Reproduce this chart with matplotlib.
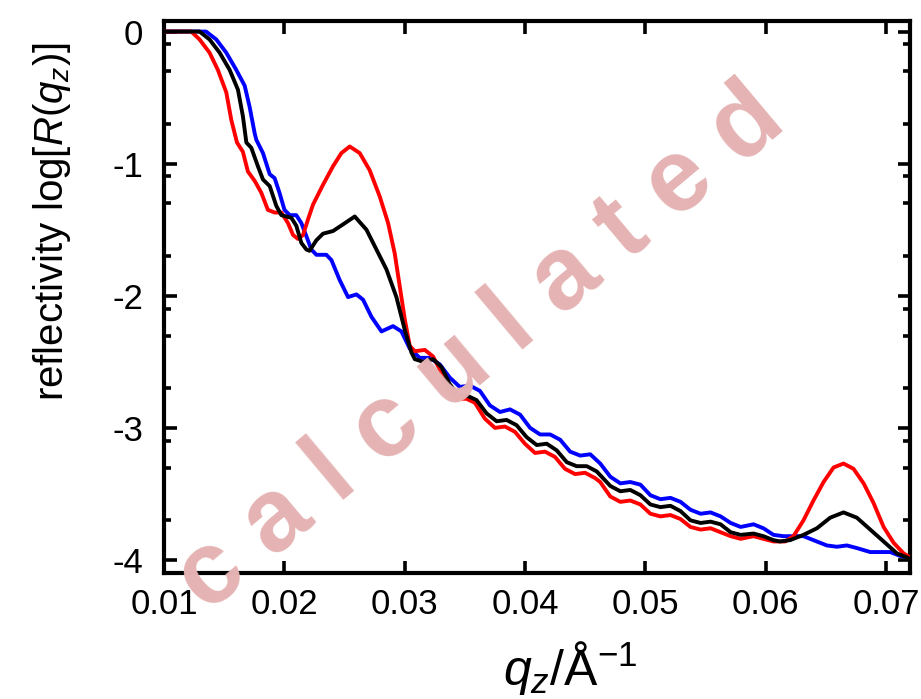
import matplotlib
matplotlib.use('Agg')
import matplotlib.pyplot as plt
import numpy as np

plt.rcParams['font.family'] = ['Liberation Sans', 'DejaVu Sans']
plt.rcParams['mathtext.fontset'] = 'custom'
plt.rcParams['mathtext.rm'] = 'Liberation Sans'
plt.rcParams['mathtext.it'] = 'Liberation Sans:italic'

# red curve
q_red = [0.0100, 0.01227, 0.01296, 0.01379, 0.01448, 0.01518, 0.0156, 0.01607, 0.01656, 0.01698,
         0.01754, 0.01809, 0.01864, 0.0192, 0.01976, 0.02031, 0.02073, 0.02114, 0.02156, 0.02198,
         0.02239, 0.02322, 0.02405, 0.02475, 0.02544, 0.02627, 0.0271, 0.02794, 0.02863, 0.02918,
         0.0296, 0.03002, 0.03043, 0.03085, 0.03168, 0.03237, 0.03293, 0.03362, 0.03432, 0.03515,
         0.03584, 0.03667, 0.03751, 0.03834, 0.03917, 0.0400, 0.04084, 0.04167, 0.0425, 0.04333,
         0.04417, 0.045, 0.04583, 0.04626, 0.0471, 0.04793, 0.04876, 0.0496, 0.05043, 0.05126,
         0.0521, 0.05293, 0.05376, 0.0546, 0.05543, 0.05626, 0.0571, 0.05793, 0.059, 0.05982,
         0.06066, 0.06163, 0.06232, 0.06315, 0.06398, 0.06482, 0.06565, 0.06648, 0.06731, 0.06815,
         0.06898, 0.06981, 0.07064, 0.07147, 0.0720]
r_red = [0, 0, -0.06, -0.16, -0.29, -0.46, -0.67, -0.84, -0.91, -1.06,
         -1.13, -1.22, -1.35, -1.37, -1.37, -1.45, -1.54, -1.57, -1.54, -1.42,
         -1.31, -1.16, -1.02, -0.92, -0.87, -0.92, -1.05, -1.25, -1.45, -1.68,
         -1.93, -2.18, -2.38, -2.42, -2.41, -2.46, -2.56, -2.71, -2.78, -2.78,
         -2.81, -2.93, -3.00, -2.99, -3.03, -3.12, -3.19, -3.18, -3.22, -3.31,
         -3.35, -3.34, -3.38, -3.41, -3.52, -3.56, -3.55, -3.58, -3.65, -3.67,
         -3.66, -3.69, -3.75, -3.77, -3.76, -3.79, -3.82, -3.84, -3.82, -3.84,
         -3.86, -3.86, -3.82, -3.70, -3.55, -3.41, -3.30, -3.27, -3.31, -3.42,
         -3.57, -3.75, -3.87, -3.95, -3.98]

# black curve
q_black = [0.0100, 0.01296, 0.01379, 0.01463, 0.01546, 0.01615, 0.01656, 0.01685, 0.01726, 0.01781,
           0.01823, 0.01879, 0.01934, 0.01976, 0.02059, 0.021, 0.02142, 0.02184, 0.0221, 0.02267,
           0.02322, 0.02405, 0.02488, 0.02586, 0.02683, 0.02766, 0.02849, 0.02932, 0.03002, 0.03057,
           0.03085, 0.03154, 0.03237, 0.03307, 0.03376, 0.03445, 0.03528, 0.03598, 0.03681, 0.03765,
           0.03848, 0.03931, 0.04014, 0.04098, 0.04181, 0.04264, 0.04348, 0.0443, 0.04514, 0.04597,
           0.0471, 0.04793, 0.04876, 0.0496, 0.05043, 0.05126, 0.0521, 0.05293, 0.05376, 0.0546,
           0.05543, 0.05626, 0.0571, 0.05793, 0.059, 0.05982, 0.06066, 0.0612, 0.06204, 0.06315,
           0.06427, 0.06537, 0.06648, 0.06759, 0.0687, 0.06981, 0.07092, 0.0720]
r_black = [0, 0, -0.06, -0.16, -0.29, -0.44, -0.64, -0.84, -0.88, -1.02,
           -1.12, -1.17, -1.32, -1.39, -1.41, -1.47, -1.60, -1.65, -1.66, -1.58,
           -1.53, -1.51, -1.46, -1.40, -1.50, -1.65, -1.80, -2.01, -2.26, -2.43,
           -2.48, -2.50, -2.48, -2.54, -2.67, -2.75, -2.76, -2.79, -2.89, -2.95,
           -2.94, -2.98, -3.07, -3.13, -3.12, -3.17, -3.26, -3.29, -3.29, -3.33,
           -3.44, -3.48, -3.47, -3.51, -3.58, -3.60, -3.59, -3.63, -3.70, -3.72,
           -3.71, -3.73, -3.79, -3.81, -3.80, -3.82, -3.85, -3.86, -3.85, -3.81,
           -3.76, -3.68, -3.64, -3.68, -3.77, -3.86, -3.95, -3.99]

# blue curve
q_blue = [0.0100, 0.0135, 0.01435, 0.01518, 0.01601, 0.01671, 0.01712, 0.01754, 0.01768, 0.01823,
          0.01879, 0.0192, 0.0196, 0.02002, 0.02045, 0.021, 0.02142, 0.02184, 0.02225, 0.02267,
          0.0235, 0.02392, 0.0246, 0.0253, 0.026, 0.02655, 0.02725, 0.02808, 0.02904, 0.02974,
          0.03043, 0.03126, 0.0321, 0.03293, 0.03376, 0.03459, 0.03543, 0.03626, 0.03709, 0.03793,
          0.03876, 0.0396, 0.04043, 0.04126, 0.0421, 0.04293, 0.04376, 0.0446, 0.04543, 0.04626,
          0.0471, 0.04793, 0.04876, 0.0496, 0.05043, 0.05126, 0.0521, 0.05293, 0.05376, 0.0546,
          0.05543, 0.05626, 0.0571, 0.05793, 0.059, 0.05982, 0.06066, 0.06149, 0.06232, 0.06315,
          0.06398, 0.06509, 0.06593, 0.06676, 0.06759, 0.0687, 0.06953, 0.07036, 0.0712, 0.0720]
r_blue = [0, 0, -0.06, -0.16, -0.29, -0.41, -0.57, -0.77, -0.82, -0.92,
          -1.08, -1.11, -1.22, -1.35, -1.39, -1.39, -1.45, -1.55, -1.65, -1.69,
          -1.69, -1.73, -1.88, -2.01, -1.99, -2.03, -2.16, -2.27, -2.23, -2.27,
          -2.40, -2.47, -2.47, -2.52, -2.62, -2.69, -2.68, -2.72, -2.83, -2.88,
          -2.86, -2.90, -3.00, -3.05, -3.05, -3.09, -3.18, -3.21, -3.20, -3.27,
          -3.37, -3.42, -3.41, -3.43, -3.51, -3.54, -3.53, -3.56, -3.62, -3.65,
          -3.64, -3.67, -3.72, -3.75, -3.73, -3.76, -3.81, -3.82, -3.82, -3.82,
          -3.85, -3.89, -3.90, -3.89, -3.91, -3.94, -3.94, -3.94, -3.97, -3.98]

x_ticks = [0.01, 0.02, 0.03, 0.04, 0.05, 0.06, 0.07]
x_labels = ['0.01', '0.02', '0.03', '0.04', '0.05', '0.06', '0.07']
y_ticks = [-4, -3, -2, -1, 0]
y_labels = ['-4', '-3', '-2', '-1', '0']

fig = plt.figure(figsize=(9.21, 6.99), dpi=100)
ax = fig.add_axes([0.178, 0.180, 0.810, 0.790])

# watermark behind the curves
fig.text(0.522, 0.50, 'c a l c u l a t e d', color='#e5b3b3', fontsize=74,
         fontweight='bold', rotation=40, rotation_mode='anchor',
         ha='center', va='center', zorder=0)
ax.patch.set_alpha(0)

lw = 2.8
ax.plot(q_blue, r_blue, color='#0000ff', lw=lw, zorder=3, solid_joinstyle='round')
ax.plot(q_red, r_red, color='#ff0000', lw=lw, zorder=4, solid_joinstyle='round')
ax.plot(q_black, r_black, color='black', lw=lw, zorder=5, solid_joinstyle='round')

ax.set_xlim(0.01, 0.0720)
ax.set_ylim(-4.10, 0.08)

ax.set_xticks(x_ticks)
ax.set_xticklabels(x_labels)
ax.set_yticks(y_ticks)
ax.set_yticklabels(y_labels)
minor_y = [d + np.log10(k) for d in range(-4, 1) for k in (0.2, 0.5, 0.8)]
ax.set_yticks([m for m in minor_y if -4.1 < m < 0.08], minor=True)

ax.tick_params(which='both', direction='in', top=True, right=True, width=2.6)
ax.tick_params(which='major', length=9, labelsize=25)
ax.tick_params(which='minor', length=5)
ax.tick_params(axis='x', pad=11)
ax.tick_params(axis='y', pad=15)
for s in ax.spines.values():
    s.set_linewidth(3.0)

fig.text(0.056, 1 - 222 / 699, r'reflectivity $\log[R(q_z)]$', rotation=90,
         ha='center', va='center', fontsize=29)
fig.text(0.619, 1 - 668 / 699, r'$q_z/\mathrm{\AA}^{-1}$', ha='center', va='center',
         fontsize=36)

fig.savefig('out.png', dpi=100)
